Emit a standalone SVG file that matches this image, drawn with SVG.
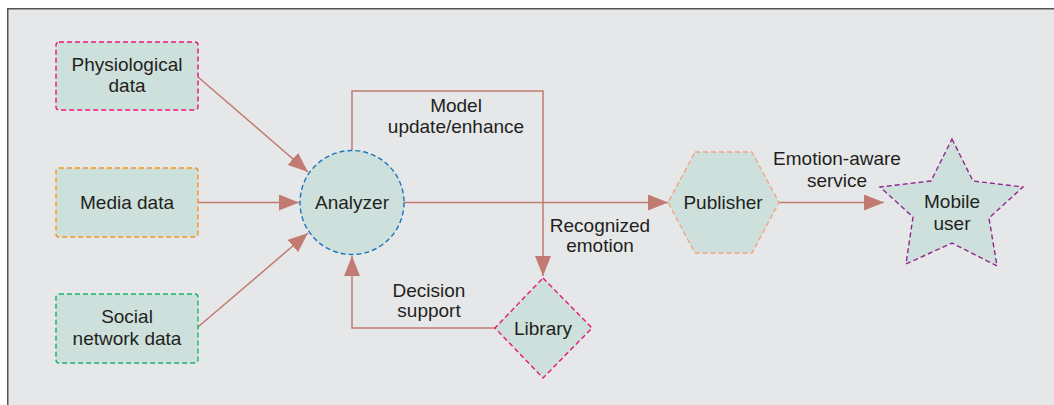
<svg xmlns="http://www.w3.org/2000/svg" width="1054" height="405" viewBox="0 0 1054 405">
<defs>
<style>
.bg{fill:#e6e7e9;stroke:#555;stroke-width:1.5}
.node{fill:#cde0dc;stroke-width:1.4;stroke-dasharray:5 3}
.t{font-family:"Liberation Sans",Arial,sans-serif;font-size:19px;fill:#231f20;text-anchor:middle}
.c{fill:none;stroke:#c17b72;stroke-width:1.5}
</style>
<marker id="ah" markerUnits="userSpaceOnUse" markerWidth="22" markerHeight="16" refX="20" refY="8" orient="auto">
<path d="M0,0 L20,8 L0,16 Z" fill="#c17b72"/>
</marker>
</defs>
<rect x="0" y="0" width="1054" height="405" fill="#ffffff"/>
<rect class="bg" x="7.75" y="8.75" width="1060" height="410"/>

<g id="connectors">
<path class="c" d="M198,77 L308,172" marker-end="url(#ah)"/>
<path class="c" d="M198,202.5 L299,202.5" marker-end="url(#ah)"/>
<path class="c" d="M198,327 L308,233" marker-end="url(#ah)"/>
<path class="c" d="M404,202.5 L668,202.5" marker-end="url(#ah)"/>
<path class="c" d="M352,150 L352,91 L543,91 L543,276" marker-end="url(#ah)"/>
<path class="c" d="M495,328 L352,328 L352,256" marker-end="url(#ah)"/>
<path class="c" d="M779,202.5 L884,202.5" marker-end="url(#ah)"/>
<text class="t" x="456" y="112">Model</text>
<text class="t" x="456" y="133">update/enhance</text>
<text class="t" x="600" y="232">Recognized</text>
<text class="t" x="600" y="252">emotion</text>
<text class="t" x="429" y="297">Decision</text>
<text class="t" x="429" y="317">support</text>
<text class="t" x="837" y="165">Emotion-aware</text>
<text class="t" x="837" y="187">service</text>
</g>

<g id="physiological">
<rect class="node" x="56" y="42" width="142" height="68" rx="3" stroke="#e8177a"/>
<text class="t" x="127" y="71">Physiological</text>
<text class="t" x="127" y="92">data</text>
</g>
<g id="media">
<rect class="node" x="56" y="168" width="142" height="69" rx="3" stroke="#f7941d"/>
<text class="t" x="127" y="209">Media data</text>
</g>
<g id="social">
<rect class="node" x="56" y="294" width="142" height="69" rx="3" stroke="#1ab26b"/>
<text class="t" x="127" y="323">Social</text>
<text class="t" x="127" y="345">network data</text>
</g>
<g id="analyzer">
<circle class="node" cx="352" cy="202.5" r="52" stroke="#1b75bc"/>
<text class="t" x="352" y="209">Analyzer</text>
</g>
<g id="library">
<polygon class="node" points="543,278 592,328 543,378 495,328" stroke="#e8177a"/>
<text class="t" x="543" y="335">Library</text>
</g>
<g id="publisher">
<polygon class="node" points="695,152 752,152 779,202.5 752,253 695,253 668,202.5" stroke="#f4a582"/>
<text class="t" x="723" y="209">Publisher</text>
</g>
<g id="mobile">
<polygon class="node" points="952,139 973,181 1023,187 989,218 997,266 952,243 906,264 913,217 880,187 931,181" stroke="#92278f"/>
<text class="t" x="952" y="208">Mobile</text>
<text class="t" x="952" y="230">user</text>
</g>
</svg>
